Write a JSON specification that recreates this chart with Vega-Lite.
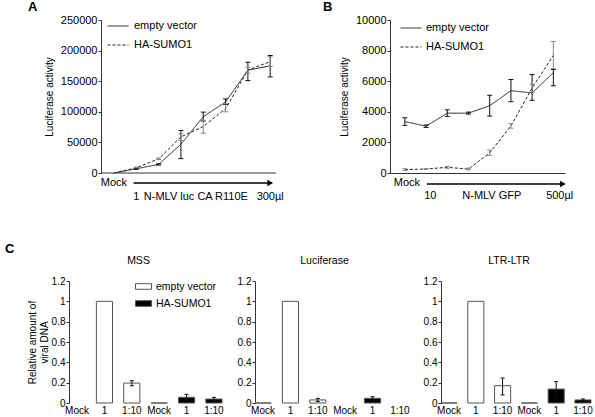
{
 "$schema": "https://vega.github.io/schema/vega-lite/v6.json",
 "padding": {"left": 5, "right": 3, "top": 1, "bottom": 2},
 "background": "white",
 "config": {
  "font": "Liberation Sans",
  "view": {"stroke": null},
  "axis": {"labelFont": "Liberation Sans", "titleFont": "Liberation Sans", "labelColor": "#000", "titleColor": "#000", "domainColor": "#333", "tickColor": "#333", "grid": false, "titleFontWeight": "normal", "labelOverlap": false, "labelFlush": false},
  "legend": {"labelFont": "Liberation Sans", "labelColor": "#000"},
  "title": {"font": "Liberation Sans", "color": "#000"}
 },
 "datasets": {
  "a": [
   {"i": 0, "s": "empty vector", "v": 0},
   {"i": 1, "s": "empty vector", "v": 7000, "lo": 6000, "hi": 8000},
   {"i": 2, "s": "empty vector", "v": 14000, "lo": 13000, "hi": 15000},
   {"i": 3, "s": "empty vector", "v": 47000, "lo": 23500, "hi": 69500},
   {"i": 4, "s": "empty vector", "v": 92000, "lo": 85000, "hi": 99500},
   {"i": 5, "s": "empty vector", "v": 116000, "lo": 112000, "hi": 121000},
   {"i": 6, "s": "empty vector", "v": 168000, "lo": 151000, "hi": 181000},
   {"i": 7, "s": "empty vector", "v": 175000, "lo": 157000, "hi": 192000},
   {"i": 0, "s": "HA-SUMO1", "v": 0},
   {"i": 1, "s": "HA-SUMO1", "v": 8500, "lo": 7500, "hi": 9500},
   {"i": 2, "s": "HA-SUMO1", "v": 23000, "lo": 22000, "hi": 24500},
   {"i": 3, "s": "HA-SUMO1", "v": 59000, "lo": 53000, "hi": 64000},
   {"i": 4, "s": "HA-SUMO1", "v": 76000, "lo": 65000, "hi": 86000},
   {"i": 5, "s": "HA-SUMO1", "v": 105000, "lo": 100000, "hi": 113000},
   {"i": 6, "s": "HA-SUMO1", "v": 168000, "lo": 163000, "hi": 173000},
   {"i": 7, "s": "HA-SUMO1", "v": 182000, "lo": 174000, "hi": 190000}
  ],
  "b": [
   {"i": 0, "s": "empty vector", "v": 3360, "lo": 3110, "hi": 3610},
   {"i": 1, "s": "empty vector", "v": 3060, "lo": 2980, "hi": 3140},
   {"i": 2, "s": "empty vector", "v": 3910, "lo": 3700, "hi": 4130},
   {"i": 3, "s": "empty vector", "v": 3910, "lo": 3850, "hi": 3980},
   {"i": 4, "s": "empty vector", "v": 4400, "lo": 3720, "hi": 5080},
   {"i": 5, "s": "empty vector", "v": 5380, "lo": 4660, "hi": 6110},
   {"i": 6, "s": "empty vector", "v": 5230, "lo": 4750, "hi": 6430},
   {"i": 7, "s": "empty vector", "v": 6550, "lo": 5700, "hi": 6770},
   {"i": 0, "s": "HA-SUMO1", "v": 220, "lo": 160, "hi": 280},
   {"i": 1, "s": "HA-SUMO1", "v": 260, "lo": 230, "hi": 300},
   {"i": 2, "s": "HA-SUMO1", "v": 370, "lo": 310, "hi": 430},
   {"i": 3, "s": "HA-SUMO1", "v": 260, "lo": 200, "hi": 320},
   {"i": 4, "s": "HA-SUMO1", "v": 1320, "lo": 1150, "hi": 1500},
   {"i": 5, "s": "HA-SUMO1", "v": 3080, "lo": 2930, "hi": 3230},
   {"i": 6, "s": "HA-SUMO1", "v": 5550, "lo": 5300, "hi": 5800},
   {"i": 7, "s": "HA-SUMO1", "v": 7690, "lo": 6800, "hi": 8600}
  ],
  "aAnn": [
   {"label": "Mock", "i": 0, "pos": "arrow"},
   {"label": "1", "i": 1, "pos": "below"},
   {"label": "N-MLV luc CA R110E", "i": 3.67, "pos": "below"},
   {"label": "300µl", "i": 7.0, "pos": "below"}
  ],
  "aArrow": [{"from": 0.88, "to": 7.0}],
  "aBase": [{"from": -0.58, "to": 7.26}],
  "bAnn": [
   {"label": "Mock", "i": 0.1, "pos": "arrow"},
   {"label": "10", "i": 1.2, "pos": "below"},
   {"label": "N-MLV GFP", "i": 4.1, "pos": "below"},
   {"label": "500µl", "i": 7.3, "pos": "below"}
  ],
  "bArrow": [{"from": 1.04, "to": 7.45}],
  "bars": [
   {"assay": "MSS", "cond": "1|e", "g": "empty vector", "v": 1.0},
   {"assay": "MSS", "cond": "1:10|e", "g": "empty vector", "v": 0.196, "lo": 0.17, "hi": 0.219},
   {"assay": "MSS", "cond": "Mock|h", "g": "HA-SUMO1", "v": 0},
   {"assay": "MSS", "cond": "1|h", "g": "HA-SUMO1", "v": 0.056, "lo": 0.03, "hi": 0.085},
   {"assay": "MSS", "cond": "1:10|h", "g": "HA-SUMO1", "v": 0.039, "lo": 0.025, "hi": 0.056},
   {"assay": "Luciferase", "cond": "Mock|e", "g": "empty vector", "v": 0},
   {"assay": "Luciferase", "cond": "1|e", "g": "empty vector", "v": 1.0},
   {"assay": "Luciferase", "cond": "1:10|e", "g": "empty vector", "v": 0.03, "lo": 0.015, "hi": 0.045},
   {"assay": "Luciferase", "cond": "1|h", "g": "HA-SUMO1", "v": 0.046, "lo": 0.03, "hi": 0.062},
   {"assay": "LTR-LTR", "cond": "Mock|e", "g": "empty vector", "v": 0},
   {"assay": "LTR-LTR", "cond": "1|e", "g": "empty vector", "v": 1.0},
   {"assay": "LTR-LTR", "cond": "1:10|e", "g": "empty vector", "v": 0.17, "lo": 0.08, "hi": 0.245},
   {"assay": "LTR-LTR", "cond": "Mock|h", "g": "HA-SUMO1", "v": 0},
   {"assay": "LTR-LTR", "cond": "1|h", "g": "HA-SUMO1", "v": 0.137, "lo": 0.06, "hi": 0.21},
   {"assay": "LTR-LTR", "cond": "1:10|h", "g": "HA-SUMO1", "v": 0.03, "lo": 0.02, "hi": 0.04}
  ]
 },
 "spacing": 40,
 "resolve": {"scale": {"strokeDash": "independent", "fill": "independent"}, "legend": {"strokeDash": "independent", "fill": "independent"}},
 "vconcat": [
  {
   "hconcat": [
    {
     "width": 207, "height": 153,
     "title": {"text": "A", "anchor": "start", "frame": "group", "fontSize": 13, "fontWeight": "bold", "dx": -41, "offset": 0},
     "layer": [
      {"data": {"name": "a"}, "mark": {"type": "line", "color": "#222", "strokeWidth": 1},
       "encoding": {
        "x": {"field": "i", "type": "quantitative", "scale": {"domain": [-2.014, 7.26], "nice": false, "zero": false}, "axis": {"title": null, "labels": false, "ticks": false, "domain": false}},
        "y": {"field": "v", "type": "quantitative", "scale": {"domain": [0, 250000], "nice": false}, "axis": {"title": "Luciferase activity", "offset": -32, "values": [0, 50000, 100000, 150000, 200000, 250000], "tickCount": 6, "format": "d", "labelOverlap": false, "labelFontSize": 11, "titleFontSize": 10, "tickSize": 3, "labelPadding": 1, "titlePadding": 6}},
        "strokeDash": {"field": "s", "type": "nominal", "scale": {"domain": ["empty vector", "HA-SUMO1"], "range": [[1, 0], [3, 2]]},
         "legend": {"title": null, "orient": "none", "legendX": 38, "legendY": -5, "symbolType": "stroke", "symbolSize": 441, "symbolStrokeWidth": 1, "symbolStrokeColor": "#222", "labelFontSize": 11, "labelOffset": 5, "rowPadding": 3, "padding": 0}}
       }},
      {"data": {"name": "aBase"}, "mark": {"type": "rule", "color": "#333", "strokeWidth": 1},
       "encoding": {
        "x": {"field": "from", "type": "quantitative", "scale": {"domain": [-2.014, 7.26], "nice": false, "zero": false}},
        "x2": {"field": "to"},
        "y": {"datum": 0, "type": "quantitative", "scale": {"domain": [0, 250000], "nice": false}, "axis": {"title": "Luciferase activity", "offset": -32, "values": [0, 50000, 100000, 150000, 200000, 250000], "tickCount": 6, "format": "d", "labelOverlap": false, "labelFontSize": 11, "titleFontSize": 10, "tickSize": 3, "labelPadding": 1, "titlePadding": 6}}
       }},
      {"data": {"name": "a"}, "mark": {"type": "rule", "strokeWidth": 1},
       "encoding": {
        "x": {"field": "i", "type": "quantitative", "scale": {"domain": [-2.014, 7.26], "nice": false, "zero": false}},
        "y": {"field": "lo", "type": "quantitative", "scale": {"domain": [0, 250000], "nice": false}, "axis": {"title": "Luciferase activity", "offset": -32, "values": [0, 50000, 100000, 150000, 200000, 250000], "tickCount": 6, "format": "d", "labelOverlap": false, "labelFontSize": 11, "titleFontSize": 10, "tickSize": 3, "labelPadding": 1, "titlePadding": 6}},
        "y2": {"field": "hi"},
        "color": {"condition": {"test": "datum.s === 'HA-SUMO1'", "value": "#888"}, "value": "#111"}
       }},
      {"data": {"name": "a"}, "mark": {"type": "tick", "orient": "horizontal", "size": 5, "thickness": 1, "opacity": 1},
       "encoding": {
        "x": {"field": "i", "type": "quantitative", "scale": {"domain": [-2.014, 7.26], "nice": false, "zero": false}},
        "y": {"field": "lo", "type": "quantitative", "scale": {"domain": [0, 250000], "nice": false}, "axis": {"title": "Luciferase activity", "offset": -32, "values": [0, 50000, 100000, 150000, 200000, 250000], "tickCount": 6, "format": "d", "labelOverlap": false, "labelFontSize": 11, "titleFontSize": 10, "tickSize": 3, "labelPadding": 1, "titlePadding": 6}},
        "color": {"condition": {"test": "datum.s === 'HA-SUMO1'", "value": "#888"}, "value": "#111"}
       }},
      {"data": {"name": "a"}, "mark": {"type": "tick", "orient": "horizontal", "size": 5, "thickness": 1, "opacity": 1},
       "encoding": {
        "x": {"field": "i", "type": "quantitative", "scale": {"domain": [-2.014, 7.26], "nice": false, "zero": false}},
        "y": {"field": "hi", "type": "quantitative", "scale": {"domain": [0, 250000], "nice": false}, "axis": {"title": "Luciferase activity", "offset": -32, "values": [0, 50000, 100000, 150000, 200000, 250000], "tickCount": 6, "format": "d", "labelOverlap": false, "labelFontSize": 11, "titleFontSize": 10, "tickSize": 3, "labelPadding": 1, "titlePadding": 6}},
        "color": {"condition": {"test": "datum.s === 'HA-SUMO1'", "value": "#888"}, "value": "#111"}
       }},
      {"data": {"name": "aArrow"}, "mark": {"type": "rule", "yOffset": 10, "color": "#000", "strokeWidth": 1.3},
       "encoding": {
        "x": {"field": "from", "type": "quantitative", "scale": {"domain": [-2.014, 7.26], "nice": false, "zero": false}},
        "x2": {"field": "to"},
        "y": {"datum": 0, "type": "quantitative", "scale": {"domain": [0, 250000], "nice": false}, "axis": {"title": "Luciferase activity", "offset": -32, "values": [0, 50000, 100000, 150000, 200000, 250000], "tickCount": 6, "format": "d", "labelOverlap": false, "labelFontSize": 11, "titleFontSize": 10, "tickSize": 3, "labelPadding": 1, "titlePadding": 6}}
       }},
      {"data": {"name": "aArrow"}, "mark": {"type": "point", "shape": "triangle-right", "filled": true, "size": 45, "yOffset": 10, "color": "#000", "opacity": 1},
       "encoding": {
        "x": {"field": "to", "type": "quantitative", "scale": {"domain": [-2.014, 7.26], "nice": false, "zero": false}},
        "y": {"datum": 0, "type": "quantitative", "scale": {"domain": [0, 250000], "nice": false}, "axis": {"title": "Luciferase activity", "offset": -32, "values": [0, 50000, 100000, 150000, 200000, 250000], "tickCount": 6, "format": "d", "labelOverlap": false, "labelFontSize": 11, "titleFontSize": 10, "tickSize": 3, "labelPadding": 1, "titlePadding": 6}}
       }},
      {"data": {"name": "aAnn"}, "transform": [{"filter": "datum.pos === 'arrow'"}], "mark": {"type": "text", "dy": 10, "fontSize": 11, "baseline": "middle", "color": "#000"},
       "encoding": {
        "x": {"field": "i", "type": "quantitative", "scale": {"domain": [-2.014, 7.26], "nice": false, "zero": false}},
        "y": {"datum": 0, "type": "quantitative", "scale": {"domain": [0, 250000], "nice": false}, "axis": {"title": "Luciferase activity", "offset": -32, "values": [0, 50000, 100000, 150000, 200000, 250000], "tickCount": 6, "format": "d", "labelOverlap": false, "labelFontSize": 11, "titleFontSize": 10, "tickSize": 3, "labelPadding": 1, "titlePadding": 6}},
        "text": {"field": "label"}
       }},
      {"data": {"name": "aAnn"}, "transform": [{"filter": "datum.pos === 'below'"}], "mark": {"type": "text", "dy": 24, "fontSize": 11, "baseline": "middle", "color": "#000"},
       "encoding": {
        "x": {"field": "i", "type": "quantitative", "scale": {"domain": [-2.014, 7.26], "nice": false, "zero": false}},
        "y": {"datum": 0, "type": "quantitative", "scale": {"domain": [0, 250000], "nice": false}, "axis": {"title": "Luciferase activity", "offset": -32, "values": [0, 50000, 100000, 150000, 200000, 250000], "tickCount": 6, "format": "d", "labelOverlap": false, "labelFontSize": 11, "titleFontSize": 10, "tickSize": 3, "labelPadding": 1, "titlePadding": 6}},
        "text": {"field": "label"}
       }}
     ]
    },
    {
     "width": 175, "height": 153,
     "title": {"text": "B", "anchor": "start", "frame": "group", "fontSize": 13, "fontWeight": "bold", "dx": -67, "offset": 0},
     "layer": [
      {"data": {"name": "b"}, "mark": {"type": "line", "color": "#222", "strokeWidth": 1},
       "encoding": {
        "x": {"field": "i", "type": "quantitative", "scale": {"domain": [-0.7, 7.55], "nice": false, "zero": false}, "axis": {"title": null, "labels": false, "ticks": false, "domain": true}},
        "y": {"field": "v", "type": "quantitative", "scale": {"domain": [0, 10000], "nice": false}, "axis": {"title": "Luciferase activity", "values": [0, 2000, 4000, 6000, 8000, 10000], "tickCount": 6, "format": "d", "labelOverlap": false, "labelFontSize": 11, "titleFontSize": 10, "tickSize": 3, "labelPadding": 1, "titlePadding": 6}},
        "strokeDash": {"field": "s", "type": "nominal", "scale": {"domain": ["empty vector", "HA-SUMO1"], "range": [[1, 0], [3, 2]]},
         "legend": {"title": null, "orient": "none", "legendX": 10, "legendY": -3, "symbolType": "stroke", "symbolSize": 441, "symbolStrokeWidth": 1, "symbolStrokeColor": "#222", "labelFontSize": 11, "labelOffset": 4, "rowPadding": 3, "padding": 0}}
       }},
      {"data": {"name": "b"}, "mark": {"type": "rule", "strokeWidth": 1},
       "encoding": {
        "x": {"field": "i", "type": "quantitative", "scale": {"domain": [-0.7, 7.55], "nice": false, "zero": false}},
        "y": {"field": "lo", "type": "quantitative", "scale": {"domain": [0, 10000], "nice": false}, "axis": {"title": "Luciferase activity", "values": [0, 2000, 4000, 6000, 8000, 10000], "tickCount": 6, "format": "d", "labelOverlap": false, "labelFontSize": 11, "titleFontSize": 10, "tickSize": 3, "labelPadding": 1, "titlePadding": 6}},
        "y2": {"field": "hi"},
        "color": {"condition": {"test": "datum.s === 'HA-SUMO1'", "value": "#888"}, "value": "#111"}
       }},
      {"data": {"name": "b"}, "mark": {"type": "tick", "orient": "horizontal", "size": 5, "thickness": 1, "opacity": 1},
       "encoding": {
        "x": {"field": "i", "type": "quantitative", "scale": {"domain": [-0.7, 7.55], "nice": false, "zero": false}},
        "y": {"field": "lo", "type": "quantitative", "scale": {"domain": [0, 10000], "nice": false}, "axis": {"title": "Luciferase activity", "values": [0, 2000, 4000, 6000, 8000, 10000], "tickCount": 6, "format": "d", "labelOverlap": false, "labelFontSize": 11, "titleFontSize": 10, "tickSize": 3, "labelPadding": 1, "titlePadding": 6}},
        "color": {"condition": {"test": "datum.s === 'HA-SUMO1'", "value": "#888"}, "value": "#111"}
       }},
      {"data": {"name": "b"}, "mark": {"type": "tick", "orient": "horizontal", "size": 5, "thickness": 1, "opacity": 1},
       "encoding": {
        "x": {"field": "i", "type": "quantitative", "scale": {"domain": [-0.7, 7.55], "nice": false, "zero": false}},
        "y": {"field": "hi", "type": "quantitative", "scale": {"domain": [0, 10000], "nice": false}, "axis": {"title": "Luciferase activity", "values": [0, 2000, 4000, 6000, 8000, 10000], "tickCount": 6, "format": "d", "labelOverlap": false, "labelFontSize": 11, "titleFontSize": 10, "tickSize": 3, "labelPadding": 1, "titlePadding": 6}},
        "color": {"condition": {"test": "datum.s === 'HA-SUMO1'", "value": "#888"}, "value": "#111"}
       }},
      {"data": {"name": "bArrow"}, "mark": {"type": "rule", "yOffset": 11, "color": "#000", "strokeWidth": 1.3},
       "encoding": {
        "x": {"field": "from", "type": "quantitative", "scale": {"domain": [-0.7, 7.55], "nice": false, "zero": false}},
        "x2": {"field": "to"},
        "y": {"datum": 0, "type": "quantitative", "scale": {"domain": [0, 10000], "nice": false}, "axis": {"title": "Luciferase activity", "values": [0, 2000, 4000, 6000, 8000, 10000], "tickCount": 6, "format": "d", "labelOverlap": false, "labelFontSize": 11, "titleFontSize": 10, "tickSize": 3, "labelPadding": 1, "titlePadding": 6}}
       }},
      {"data": {"name": "bArrow"}, "mark": {"type": "point", "shape": "triangle-right", "filled": true, "size": 45, "yOffset": 11, "color": "#000", "opacity": 1},
       "encoding": {
        "x": {"field": "to", "type": "quantitative", "scale": {"domain": [-0.7, 7.55], "nice": false, "zero": false}},
        "y": {"datum": 0, "type": "quantitative", "scale": {"domain": [0, 10000], "nice": false}, "axis": {"title": "Luciferase activity", "values": [0, 2000, 4000, 6000, 8000, 10000], "tickCount": 6, "format": "d", "labelOverlap": false, "labelFontSize": 11, "titleFontSize": 10, "tickSize": 3, "labelPadding": 1, "titlePadding": 6}}
       }},
      {"data": {"name": "bAnn"}, "transform": [{"filter": "datum.pos === 'arrow'"}], "mark": {"type": "text", "dy": 10, "fontSize": 11, "baseline": "middle", "color": "#000"},
       "encoding": {
        "x": {"field": "i", "type": "quantitative", "scale": {"domain": [-0.7, 7.55], "nice": false, "zero": false}},
        "y": {"datum": 0, "type": "quantitative", "scale": {"domain": [0, 10000], "nice": false}, "axis": {"title": "Luciferase activity", "values": [0, 2000, 4000, 6000, 8000, 10000], "tickCount": 6, "format": "d", "labelOverlap": false, "labelFontSize": 11, "titleFontSize": 10, "tickSize": 3, "labelPadding": 1, "titlePadding": 6}},
        "text": {"field": "label"}
       }},
      {"data": {"name": "bAnn"}, "transform": [{"filter": "datum.pos === 'below'"}], "mark": {"type": "text", "dy": 23, "fontSize": 11, "baseline": "middle", "color": "#000"},
       "encoding": {
        "x": {"field": "i", "type": "quantitative", "scale": {"domain": [-0.7, 7.55], "nice": false, "zero": false}},
        "y": {"datum": 0, "type": "quantitative", "scale": {"domain": [0, 10000], "nice": false}, "axis": {"title": "Luciferase activity", "values": [0, 2000, 4000, 6000, 8000, 10000], "tickCount": 6, "format": "d", "labelOverlap": false, "labelFontSize": 11, "titleFontSize": 10, "tickSize": 3, "labelPadding": 1, "titlePadding": 6}},
        "text": {"field": "label"}
       }}
     ]
    }
   ],
   "spacing": 39,
   "resolve": {"scale": {"strokeDash": "independent"}, "legend": {"strokeDash": "independent"}}
  },
  {
   "title": {"text": "C", "anchor": "start", "frame": "bounds", "fontSize": 13, "fontWeight": "bold", "dx": -22, "offset": 0},
   "spacing": 13,
   "resolve": {"scale": {"fill": "independent"}, "legend": {"fill": "independent"}},
   "hconcat": [
    {
     "width": 153, "height": 122,
     "title": {"text": "MSS", "fontSize": 10.5, "fontWeight": "normal", "dx": -7, "offset": 10},
     "data": {"name": "bars"},
     "transform": [{"filter": "datum.assay === 'MSS'"}],
     "layer": [
      {"mark": {"type": "bar", "stroke": "#555", "strokeWidth": 1},
       "encoding": {
        "x": {"field": "cond", "type": "nominal", "sort": null, "scale": {"domain": ["Mock|e", "1|e", "1:10|e", "Mock|h", "1|h", "1:10|h"], "paddingInner": 0.41, "paddingOuter": 0}, "axis": {"title": null, "labelExpr": "split(datum.label, '|')[0]", "labelAngle": 0, "domain": false, "ticks": false, "labelFontSize": 10, "labelPadding": 2}},
        "y": {"field": "v", "type": "quantitative", "scale": {"domain": [0, 1.2], "nice": false}, "axis": {"title": ["Relative amount of", "viral DNA"], "values": [0, 0.2, 0.4, 0.6, 0.8, 1, 1.2], "tickCount": 7, "format": "~g", "labelOverlap": false, "labelFontSize": 10, "titleFontSize": 10, "tickSize": 3, "labelPadding": 1, "titlePadding": 2}},
        "fill": {"field": "g", "type": "nominal", "scale": {"domain": ["empty vector", "HA-SUMO1"], "range": ["#ffffff", "#000000"]},
         "legend": {"title": null, "orient": "none", "legendX": 66, "legendY": -3, "symbolType": "M-1,-0.35H1V0.35H-1Z", "symbolSize": 256, "symbolStrokeColor": "#555", "symbolStrokeWidth": 1, "labelFontSize": 10.5, "labelOffset": 4, "rowPadding": 3, "padding": 0}}
       }},
      {"mark": {"type": "rule", "strokeWidth": 1, "color": "#111"},
       "encoding": {"x": {"field": "cond", "type": "nominal", "sort": null}, "y": {"field": "lo", "type": "quantitative", "axis": {"title": ["Relative amount of", "viral DNA"], "values": [0, 0.2, 0.4, 0.6, 0.8, 1, 1.2], "tickCount": 7, "format": "~g", "labelOverlap": false, "labelFontSize": 10, "titleFontSize": 10, "tickSize": 3, "labelPadding": 1, "titlePadding": 2}}, "y2": {"field": "hi"}}},
      {"mark": {"type": "tick", "orient": "horizontal", "size": 4, "thickness": 1, "opacity": 1, "color": "#111"},
       "encoding": {"x": {"field": "cond", "type": "nominal", "sort": null}, "y": {"field": "lo", "type": "quantitative", "axis": {"title": ["Relative amount of", "viral DNA"], "values": [0, 0.2, 0.4, 0.6, 0.8, 1, 1.2], "tickCount": 7, "format": "~g", "labelOverlap": false, "labelFontSize": 10, "titleFontSize": 10, "tickSize": 3, "labelPadding": 1, "titlePadding": 2}}}},
      {"mark": {"type": "tick", "orient": "horizontal", "size": 4, "thickness": 1, "opacity": 1, "color": "#111"},
       "encoding": {"x": {"field": "cond", "type": "nominal", "sort": null}, "y": {"field": "hi", "type": "quantitative", "axis": {"title": ["Relative amount of", "viral DNA"], "values": [0, 0.2, 0.4, 0.6, 0.8, 1, 1.2], "tickCount": 7, "format": "~g", "labelOverlap": false, "labelFontSize": 10, "titleFontSize": 10, "tickSize": 3, "labelPadding": 1, "titlePadding": 2}}}}
     ]
    },
    {
     "width": 153, "height": 122,
     "title": {"text": "Luciferase", "fontSize": 10.5, "fontWeight": "normal", "dx": -7, "offset": 10},
     "data": {"name": "bars"},
     "transform": [{"filter": "datum.assay === 'Luciferase'"}],
     "layer": [
      {"mark": {"type": "bar", "stroke": "#555", "strokeWidth": 1},
       "encoding": {
        "x": {"field": "cond", "type": "nominal", "sort": null, "scale": {"domain": ["Mock|e", "1|e", "1:10|e", "Mock|h", "1|h", "1:10|h"], "paddingInner": 0.41, "paddingOuter": 0}, "axis": {"title": null, "labelExpr": "split(datum.label, '|')[0]", "labelAngle": 0, "domain": false, "ticks": false, "labelFontSize": 10, "labelPadding": 2}},
        "y": {"field": "v", "type": "quantitative", "scale": {"domain": [0, 1.2], "nice": false}, "axis": {"title": null, "values": [0, 0.2, 0.4, 0.6, 0.8, 1, 1.2], "tickCount": 7, "format": "~g", "labelOverlap": false, "labelFontSize": 10, "tickSize": 3, "labelPadding": 1}},
        "fill": {"field": "g", "type": "nominal", "scale": {"domain": ["empty vector", "HA-SUMO1"], "range": ["#ffffff", "#000000"]}, "legend": null}
       }},
      {"mark": {"type": "rule", "strokeWidth": 1, "color": "#111"},
       "encoding": {"x": {"field": "cond", "type": "nominal", "sort": null}, "y": {"field": "lo", "type": "quantitative", "axis": {"title": null, "values": [0, 0.2, 0.4, 0.6, 0.8, 1, 1.2], "tickCount": 7, "format": "~g", "labelOverlap": false, "labelFontSize": 10, "tickSize": 3, "labelPadding": 1}}, "y2": {"field": "hi"}}},
      {"mark": {"type": "tick", "orient": "horizontal", "size": 4, "thickness": 1, "opacity": 1, "color": "#111"},
       "encoding": {"x": {"field": "cond", "type": "nominal", "sort": null}, "y": {"field": "lo", "type": "quantitative", "axis": {"title": null, "values": [0, 0.2, 0.4, 0.6, 0.8, 1, 1.2], "tickCount": 7, "format": "~g", "labelOverlap": false, "labelFontSize": 10, "tickSize": 3, "labelPadding": 1}}}},
      {"mark": {"type": "tick", "orient": "horizontal", "size": 4, "thickness": 1, "opacity": 1, "color": "#111"},
       "encoding": {"x": {"field": "cond", "type": "nominal", "sort": null}, "y": {"field": "hi", "type": "quantitative", "axis": {"title": null, "values": [0, 0.2, 0.4, 0.6, 0.8, 1, 1.2], "tickCount": 7, "format": "~g", "labelOverlap": false, "labelFontSize": 10, "tickSize": 3, "labelPadding": 1}}}}
     ]
    },
    {
     "width": 150, "height": 122,
     "title": {"text": "LTR-LTR", "fontSize": 10.5, "fontWeight": "normal", "dx": -7, "offset": 10},
     "data": {"name": "bars"},
     "transform": [{"filter": "datum.assay === 'LTR-LTR'"}],
     "layer": [
      {"mark": {"type": "bar", "stroke": "#555", "strokeWidth": 1},
       "encoding": {
        "x": {"field": "cond", "type": "nominal", "sort": null, "scale": {"domain": ["Mock|e", "1|e", "1:10|e", "Mock|h", "1|h", "1:10|h"], "paddingInner": 0.4, "paddingOuter": 0}, "axis": {"title": null, "labelExpr": "split(datum.label, '|')[0]", "labelAngle": 0, "domain": false, "ticks": false, "labelFontSize": 10, "labelPadding": 2}},
        "y": {"field": "v", "type": "quantitative", "scale": {"domain": [0, 1.2], "nice": false}, "axis": {"title": null, "values": [0, 0.2, 0.4, 0.6, 0.8, 1, 1.2], "tickCount": 7, "format": "~g", "labelOverlap": false, "labelFontSize": 10, "tickSize": 3, "labelPadding": 1}},
        "fill": {"field": "g", "type": "nominal", "scale": {"domain": ["empty vector", "HA-SUMO1"], "range": ["#ffffff", "#000000"]}, "legend": null}
       }},
      {"mark": {"type": "rule", "strokeWidth": 1, "color": "#111"},
       "encoding": {"x": {"field": "cond", "type": "nominal", "sort": null}, "y": {"field": "lo", "type": "quantitative", "axis": {"title": null, "values": [0, 0.2, 0.4, 0.6, 0.8, 1, 1.2], "tickCount": 7, "format": "~g", "labelOverlap": false, "labelFontSize": 10, "tickSize": 3, "labelPadding": 1}}, "y2": {"field": "hi"}}},
      {"mark": {"type": "tick", "orient": "horizontal", "size": 4, "thickness": 1, "opacity": 1, "color": "#111"},
       "encoding": {"x": {"field": "cond", "type": "nominal", "sort": null}, "y": {"field": "lo", "type": "quantitative", "axis": {"title": null, "values": [0, 0.2, 0.4, 0.6, 0.8, 1, 1.2], "tickCount": 7, "format": "~g", "labelOverlap": false, "labelFontSize": 10, "tickSize": 3, "labelPadding": 1}}}},
      {"mark": {"type": "tick", "orient": "horizontal", "size": 4, "thickness": 1, "opacity": 1, "color": "#111"},
       "encoding": {"x": {"field": "cond", "type": "nominal", "sort": null}, "y": {"field": "hi", "type": "quantitative", "axis": {"title": null, "values": [0, 0.2, 0.4, 0.6, 0.8, 1, 1.2], "tickCount": 7, "format": "~g", "labelOverlap": false, "labelFontSize": 10, "tickSize": 3, "labelPadding": 1}}}}
     ]
    }
   ]
  }
 ]
}
